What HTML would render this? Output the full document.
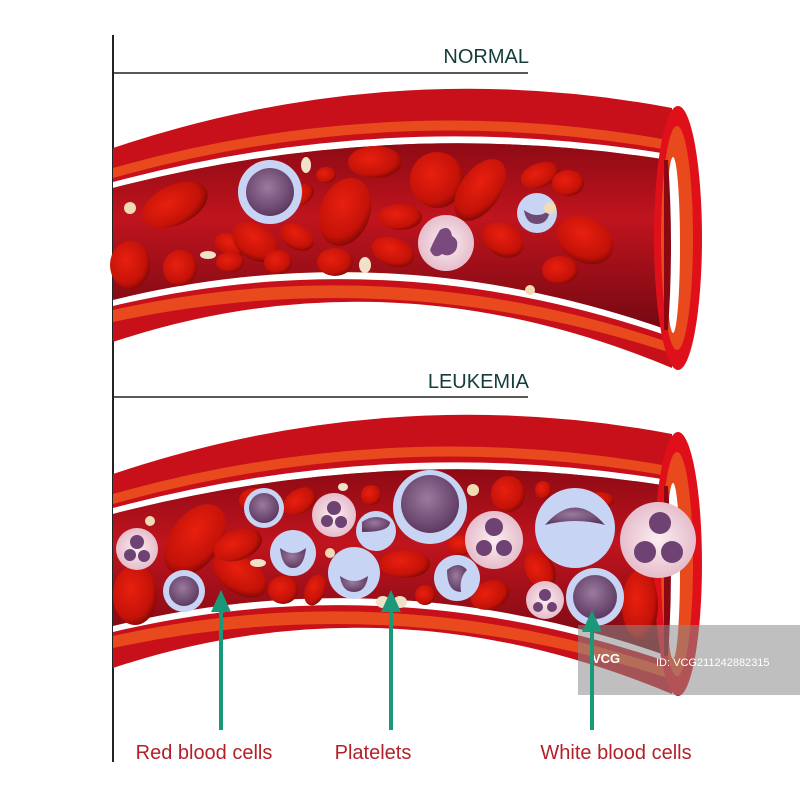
<!DOCTYPE html>
<html><head><style>body{margin:0;background:#fff}svg{display:block}</style></head><body>
<svg width="800" height="800" viewBox="0 0 800 800" xmlns="http://www.w3.org/2000/svg" font-family="Liberation Sans, sans-serif">
<defs>
<radialGradient id="rbc" cx="0.4" cy="0.4" r="0.7"><stop offset="0" stop-color="#e8200f"/><stop offset="0.7" stop-color="#c41208"/><stop offset="1" stop-color="#6a0505"/></radialGradient>
<radialGradient id="wbc" cx="0.45" cy="0.4" r="0.6"><stop offset="0" stop-color="#9a7a9e"/><stop offset="1" stop-color="#5e3a62"/></radialGradient>
<radialGradient id="pink" cx="0.5" cy="0.5" r="0.55"><stop offset="0" stop-color="#fbeef2"/><stop offset="1" stop-color="#e4b8c8"/></radialGradient>
<linearGradient id="lum" x1="0" y1="0" x2="0" y2="1"><stop offset="0" stop-color="#8e0a14"/><stop offset="0.4" stop-color="#c0141e"/><stop offset="1" stop-color="#740812"/></linearGradient>
<g id="vessel">
<path d="M113,148 Q390,55 672,108 L672,368 Q390,250 113,342 Z" fill="#c8101a"/>
<path d="M113,168 Q390,90 668,140 L668,150 Q390,100 113,178 Z" fill="#e84a1e"/>
<path d="M113,182 Q390,108 668,154 L668,160 Q390,116 113,188 Z" fill="#fff"/>
<path d="M113,188 Q390,116 668,160 L668,330 Q390,232 113,300 Z" fill="url(#lum)"/>
<path d="M113,300 Q390,232 668,330 L668,336 Q390,240 113,306 Z" fill="#fff"/>
<path d="M113,310 Q390,248 668,342 L668,352 Q390,262 113,322 Z" fill="#e84a1e"/>
<ellipse cx="678" cy="238" rx="24" ry="132" fill="#e0101a"/>
<ellipse cx="677" cy="238" rx="16" ry="112" fill="#e84a1e"/>
<ellipse cx="673" cy="245" rx="7" ry="88" fill="#fff"/>
<path d="M668,160 Q674,245 668,330 L664,330 L664,160Z" fill="#8a0812"/>
</g>
</defs>
<line x1="113" y1="35" x2="113" y2="762" stroke="#222" stroke-width="2"/>
<line x1="113" y1="73" x2="528" y2="73" stroke="#222" stroke-width="1.5"/>
<line x1="113" y1="397" x2="528" y2="397" stroke="#222" stroke-width="1.5"/>
<text x="529" y="63" font-size="20" fill="#143c3a" text-anchor="end">NORMAL</text>
<text x="529" y="388" font-size="20" fill="#143c3a" text-anchor="end">LEUKEMIA</text>
<use href="#vessel"/>
<g fill="url(#rbc)">
<ellipse cx="175" cy="205" rx="35" ry="20" transform="rotate(-25 175 205)"/>
<ellipse cx="130" cy="265" rx="20" ry="24"/>
<ellipse cx="180" cy="268" rx="17" ry="18"/>
<ellipse cx="230" cy="245" rx="16" ry="11" transform="rotate(25 230 245)"/>
<ellipse cx="230" cy="262" rx="14" ry="10"/>
<ellipse cx="255" cy="242" rx="25" ry="17" transform="rotate(35 255 242)"/>
<ellipse cx="300" cy="195" rx="15" ry="10" transform="rotate(-30 300 195)"/>
<ellipse cx="297" cy="237" rx="18" ry="12" transform="rotate(30 297 237)"/>
<ellipse cx="278" cy="262" rx="14" ry="12"/>
<ellipse cx="326" cy="175" rx="10" ry="8"/>
<ellipse cx="345" cy="212" rx="25" ry="35" transform="rotate(20 345 212)"/>
<ellipse cx="335" cy="262" rx="18" ry="14"/>
<ellipse cx="375" cy="162" rx="27" ry="16"/>
<ellipse cx="400" cy="217" rx="22" ry="13"/>
<ellipse cx="393" cy="252" rx="22" ry="14" transform="rotate(20 393 252)"/>
<ellipse cx="437" cy="180" rx="27" ry="28"/>
<ellipse cx="480" cy="190" rx="20" ry="35" transform="rotate(35 480 190)"/>
<ellipse cx="503" cy="240" rx="22" ry="16" transform="rotate(30 503 240)"/>
<ellipse cx="540" cy="175" rx="20" ry="12" transform="rotate(-20 540 175)"/>
<ellipse cx="568" cy="183" rx="16" ry="13"/>
<ellipse cx="560" cy="270" rx="18" ry="14"/>
<ellipse cx="585" cy="240" rx="30" ry="22" transform="rotate(30 585 240)"/>
</g>
<circle cx="270" cy="192" r="32" fill="#c8d4f4"/><circle cx="270" cy="192" r="24" fill="url(#wbc)"/>
<circle cx="446" cy="243" r="28" fill="url(#pink)"/><path d="M440,230 q10,-6 12,6 q8,4 4,14 q-6,8 -14,4 q-8,6 -12,-4 q4,-10 10,-20z" fill="#7a4a7e"/>
<circle cx="537" cy="213" r="20" fill="#c8d4f4"/><path d="M524,210 q13,10 26,0 q-2,14 -13,14 q-11,0 -13,-14z" fill="#6e4a72"/>
<ellipse cx="306" cy="165" rx="5" ry="8" fill="#f0e2c8"/><ellipse cx="208" cy="255" rx="8" ry="4" fill="#f0e2c8"/><ellipse cx="365" cy="265" rx="6" ry="8" fill="#f0e2c8"/>
<circle cx="130" cy="208" r="6" fill="#f0dcb4"/><circle cx="550" cy="208" r="6" fill="#f0dcb4"/><circle cx="530" cy="290" r="5" fill="#f0dcb4"/>
<g transform="translate(0,326)">
<use href="#vessel"/>
</g>
<g fill="url(#rbc)">
<ellipse cx="195" cy="540" rx="25" ry="40" transform="rotate(35 195 540)"/>
<ellipse cx="135" cy="595" rx="22" ry="30"/>
<ellipse cx="240" cy="575" rx="30" ry="18" transform="rotate(35 240 575)"/>
<ellipse cx="238" cy="545" rx="25" ry="15" transform="rotate(-20 238 545)"/>
<ellipse cx="283" cy="590" rx="15" ry="14"/>
<ellipse cx="255" cy="500" rx="16" ry="12"/>
<ellipse cx="315" cy="590" rx="10" ry="16" transform="rotate(20 315 590)"/>
<ellipse cx="300" cy="501" rx="18" ry="12" transform="rotate(-30 300 501)"/>
<ellipse cx="371" cy="495" rx="10" ry="10"/>
<ellipse cx="405" cy="564" rx="25" ry="14"/>
<ellipse cx="425" cy="595" rx="10" ry="10"/>
<ellipse cx="375" cy="540" rx="15" ry="10"/>
<ellipse cx="508" cy="494" rx="17" ry="18"/>
<ellipse cx="543" cy="490" rx="8" ry="9"/>
<ellipse cx="490" cy="595" rx="20" ry="14" transform="rotate(-20 490 595)"/>
<ellipse cx="540" cy="570" rx="14" ry="20" transform="rotate(-30 540 570)"/>
<ellipse cx="600" cy="500" rx="14" ry="8"/>
<ellipse cx="640" cy="605" rx="18" ry="35"/>
<ellipse cx="462" cy="545" rx="15" ry="10"/>
</g>
<g fill="#c8d4f4">
<circle cx="264" cy="508" r="20"/><circle cx="184" cy="591" r="21"/><circle cx="293" cy="553" r="23"/>
<circle cx="376" cy="531" r="20"/><circle cx="354" cy="573" r="26"/><circle cx="430" cy="507" r="37"/>
<circle cx="457" cy="578" r="23"/><circle cx="575" cy="528" r="40"/><circle cx="595" cy="597" r="29"/>
</g>
<g fill="url(#wbc)">
<circle cx="264" cy="508" r="15"/><circle cx="184" cy="591" r="15"/><circle cx="430" cy="504" r="29"/><circle cx="595" cy="597" r="22"/>
<path d="M280,548 q13,10 26,0 q-2,20 -13,20 q-11,0 -13,-20z"/>
<path d="M340,576 q14,10 28,0 q-2,16 -14,16 q-12,0 -14,-16z"/>
<path d="M545,525 q30,-35 60,0 q-30,-8 -60,0z"/>
<path d="M362,522 q14,-10 28,0 q0,10 -28,10z"/>
<path d="M447,570 q12,-10 20,0 q-8,8 -6,22 q-14,0 -14,-22z"/>
</g>
<g fill="url(#pink)">
<circle cx="137" cy="549" r="21"/><circle cx="334" cy="515" r="22"/><circle cx="494" cy="540" r="29"/>
<circle cx="658" cy="540" r="38"/><circle cx="545" cy="600" r="19"/>
</g>
<g fill="#6e4272">
<circle cx="137" cy="542" r="7"/><circle cx="130" cy="555" r="6"/><circle cx="144" cy="556" r="6"/>
<circle cx="334" cy="508" r="7"/><circle cx="327" cy="521" r="6"/><circle cx="341" cy="522" r="6"/>
<circle cx="494" cy="527" r="9"/><circle cx="484" cy="548" r="8"/><circle cx="504" cy="548" r="8"/>
<circle cx="660" cy="523" r="11"/><circle cx="645" cy="552" r="11"/><circle cx="672" cy="552" r="11"/>
<circle cx="545" cy="595" r="6"/><circle cx="538" cy="607" r="5"/><circle cx="552" cy="607" r="5"/>
</g>
<ellipse cx="258" cy="563" rx="8" ry="4" fill="#f0e2c8"/><ellipse cx="343" cy="487" rx="5" ry="4" fill="#f0e2c8"/>
<ellipse cx="383" cy="602" rx="7" ry="6" fill="#f0e2c8"/><ellipse cx="400" cy="602" rx="7" ry="6" fill="#f0e2c8"/>
<circle cx="150" cy="521" r="5" fill="#f0dcb4"/><circle cx="330" cy="553" r="5" fill="#f0dcb4"/><circle cx="473" cy="490" r="6" fill="#f0dcb4"/>
<rect x="578" y="625" width="222" height="70" fill="#8a8a8a" fill-opacity="0.55"/>
<text x="592" y="663" font-size="13" font-weight="bold" fill="#fff">VCG</text>
<text x="656" y="666" font-size="11" fill="#fff">ID: VCG211242882315</text>
<g fill="#1a9878" stroke="#1a9878">
<line x1="221" y1="730" x2="221" y2="600" stroke-width="4"/><path d="M211,612 L221,590 L231,612Z" stroke="none"/>
<line x1="391" y1="730" x2="391" y2="600" stroke-width="4"/><path d="M381,612 L391,590 L401,612Z" stroke="none"/>
<line x1="592" y1="730" x2="592" y2="625" stroke-width="4"/><path d="M582,632 L592,610 L602,632Z" stroke="none"/>
</g>
<g font-size="20" fill="#b41f28" text-anchor="middle">
<text x="204" y="759">Red blood cells</text>
<text x="373" y="759">Platelets</text>
<text x="616" y="759">White blood cells</text>
</g>
</svg>
</body></html>
